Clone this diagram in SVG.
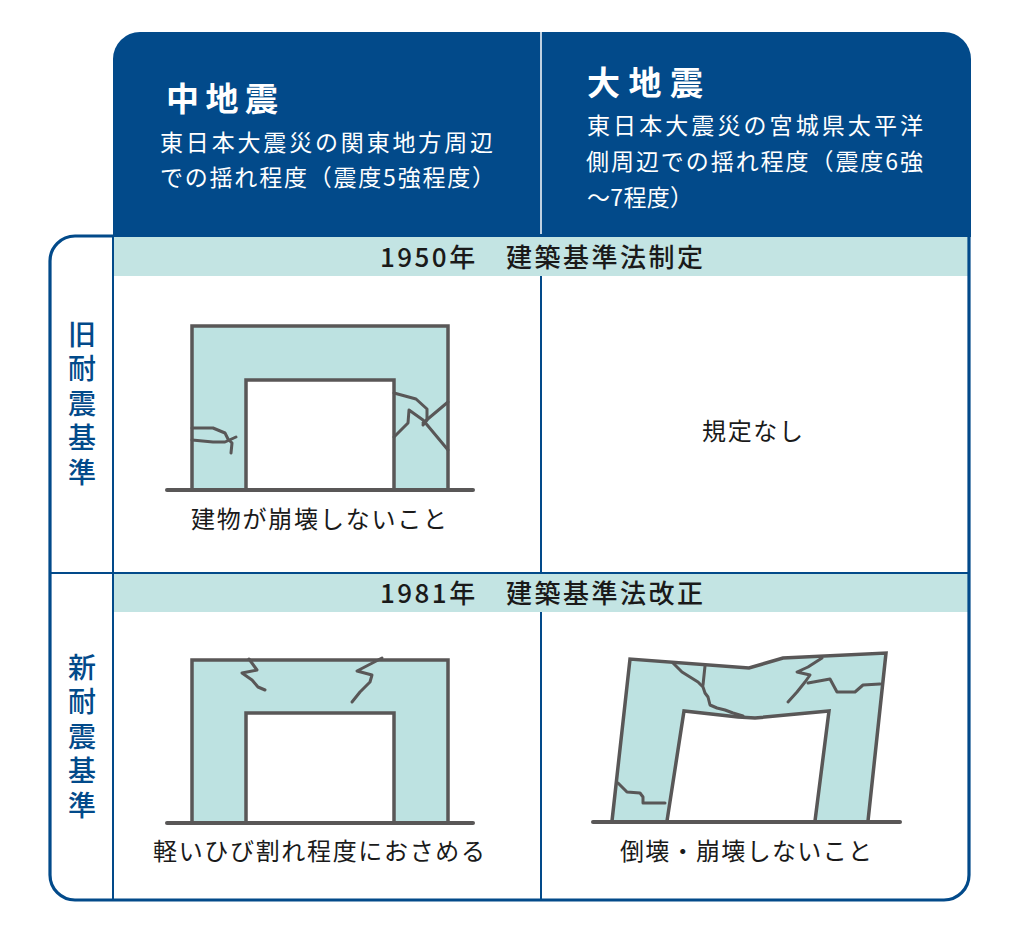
<svg xmlns="http://www.w3.org/2000/svg" width="1020" height="930" viewBox="0 0 1020 930">
<style>
.jp{font-family:"Noto Sans CJK JP","Noto Sans",sans-serif}
.title{font-size:33px;font-weight:700;fill:#ffffff}
.sub{font-size:23px;font-weight:400;fill:#ffffff}
.band{font-size:26px;font-weight:500;fill:#1a1a1a}
.lbl{font-size:24px;font-weight:400;fill:#1a1a1a}
.side{font-size:28px;font-weight:500;fill:#024A8A;writing-mode:vertical-rl;letter-spacing:6.5px}
.grid{stroke:#024A8A;stroke-width:2;fill:none}
.wall{fill:#BDE2E1}
.hole{fill:#ffffff}
.edge{fill:none;stroke:#595757;stroke-width:3.5;stroke-linejoin:miter}
.ground{stroke:#595757;stroke-width:4;stroke-linecap:round}
.crack{fill:none;stroke:#595757;stroke-width:3;stroke-linejoin:round;stroke-linecap:round}
</style>
<rect width="1020" height="930" fill="#ffffff"/>
<g id="header">
<path d="M113,237 V59 A27,27 0 0 1 140,32 H944 A27,27 0 0 1 971,59 V237 Z" fill="#024A8A"/>
<line x1="541" y1="32" x2="541" y2="234" stroke="#ffffff" stroke-width="1.5"/>
<text class="jp title" x="166" y="111" textLength="112" lengthAdjust="spacing">中地震</text>
<text class="jp sub" x="160" y="151" textLength="333" lengthAdjust="spacing">東日本大震災の関東地方周辺</text>
<text class="jp sub" x="160" y="186" textLength="335" lengthAdjust="spacing">での揺れ程度（震度5強程度）</text>
<text class="jp title" x="587" y="95" textLength="116" lengthAdjust="spacing">大地震</text>
<text class="jp sub" x="587" y="134" textLength="336" lengthAdjust="spacing">東日本大震災の宮城県太平洋</text>
<text class="jp sub" x="586" y="170" textLength="337" lengthAdjust="spacing">側周辺での揺れ程度（震度6強</text>
<text class="jp sub" x="587" y="206" textLength="106" lengthAdjust="spacing">～7程度）</text>
</g>
<g id="bands">
<rect x="113" y="237" width="855" height="39" fill="#C3E4E3"/>
<rect x="113" y="574" width="855" height="38" fill="#C3E4E3"/>
<text class="jp band" x="380" y="267" textLength="323" lengthAdjust="spacing">1950年　建築基準法制定</text>
<text class="jp band" x="380" y="603" textLength="323" lengthAdjust="spacing">1981年　建築基準法改正</text>
</g>
<g id="grid">
<line class="grid" x1="113" y1="236" x2="113" y2="900"/>
<line class="grid" x1="50" y1="573" x2="969" y2="573"/>
<line class="grid" x1="541" y1="276" x2="541" y2="573"/>
<line class="grid" x1="541" y1="612" x2="541" y2="900"/>
<path d="M113,236 H75 A25,25 0 0 0 50,261 V875 A25,25 0 0 0 75,900 H944 A25,25 0 0 0 969,875 V236" fill="none" stroke="#024A8A" stroke-width="3.2"/>
</g>
<g id="side-old">
<text class="jp side" x="82" y="320">旧耐震基準</text>
</g>
<g id="side-new">
<text class="jp side" x="82" y="653">新耐震基準</text>
</g>
<g id="frame-old">
<path class="wall" d="M192,490 V326 H448 V490 Z"/>
<path class="hole" d="M246,490 V380 H394 V490 Z"/>
<polyline class="edge" points="192,490 192,326 448,326 448,490"/>
<polyline class="edge" points="246,490 246,380 394,380 394,490"/>
<polyline class="crack" points="192,428 213,428 225,433 228,439 232,443 231,453"/>
<polyline class="crack" points="192,440 213,442 225,442 236,437"/>
<polyline class="crack" points="394,393 416,399 427,409 427,420 423,425"/>
<polyline class="crack" points="394,437 408,423 409,410 423,420 448,450"/>
<polyline class="crack" points="423,423 448,402"/>
<line class="ground" x1="167" y1="490" x2="473" y2="490"/>
<text class="jp lbl" x="191" y="528" textLength="256" lengthAdjust="spacing">建物が崩壊しないこと</text>
</g>
<g id="none-old">
<text class="jp lbl" x="702" y="440" textLength="101" lengthAdjust="spacing">規定なし</text>
</g>
<g id="frame-new-mid">
<path class="wall" d="M192,823 V660 H448 V823 Z"/>
<path class="hole" d="M246,823 V713 H394 V823 Z"/>
<polyline class="edge" points="192,823 192,660 448,660 448,823"/>
<polyline class="edge" points="246,823 246,713 394,713 394,823"/>
<polyline class="crack" points="249,659 257,670 242,673 252,680 258,687 265,690"/>
<polyline class="crack" points="382,658 357,671 372,675 370,682 360,692 352,702"/>
<line class="ground" x1="167" y1="823" x2="473" y2="823"/>
<text class="jp lbl" x="153" y="860" textLength="332" lengthAdjust="spacing">軽いひび割れ程度におさめる</text>
</g>
<g id="frame-new-large">
<path class="wall" d="M612,821 L630,659 L749,668 L783,658 L886,653 L868,821 Z"/>
<path class="hole" d="M667,821 L684,711 L738,717 L755,718 L829,711 L815,821 Z"/>
<polyline class="edge" points="612,821 630,659 749,668 783,658 886,653 868,821"/>
<polyline class="edge" points="667,821 684,711 738,717 755,718 829,711 815,821"/>
<polyline class="crack" points="673,663 682,672 690,677 698,682 703,687 705,693 708,697 710,705 717,708 725,710 733,713 743,716"/>
<polyline class="crack" points="705,666 703,685"/>
<polyline class="crack" points="822,658 808,667 797,672 810,675 805,682 797,692 788,702"/>
<polyline class="crack" points="808,683 830,679 837,692 855,692 863,685 880,684"/>
<polyline class="crack" points="618,783 627,792 640,793 643,797 643,803 665,803"/>
<line class="ground" x1="593" y1="822" x2="900" y2="822"/>
<text class="jp lbl" x="620" y="860" textLength="252" lengthAdjust="spacing">倒壊・崩壊しないこと</text>
</g>
</svg>
